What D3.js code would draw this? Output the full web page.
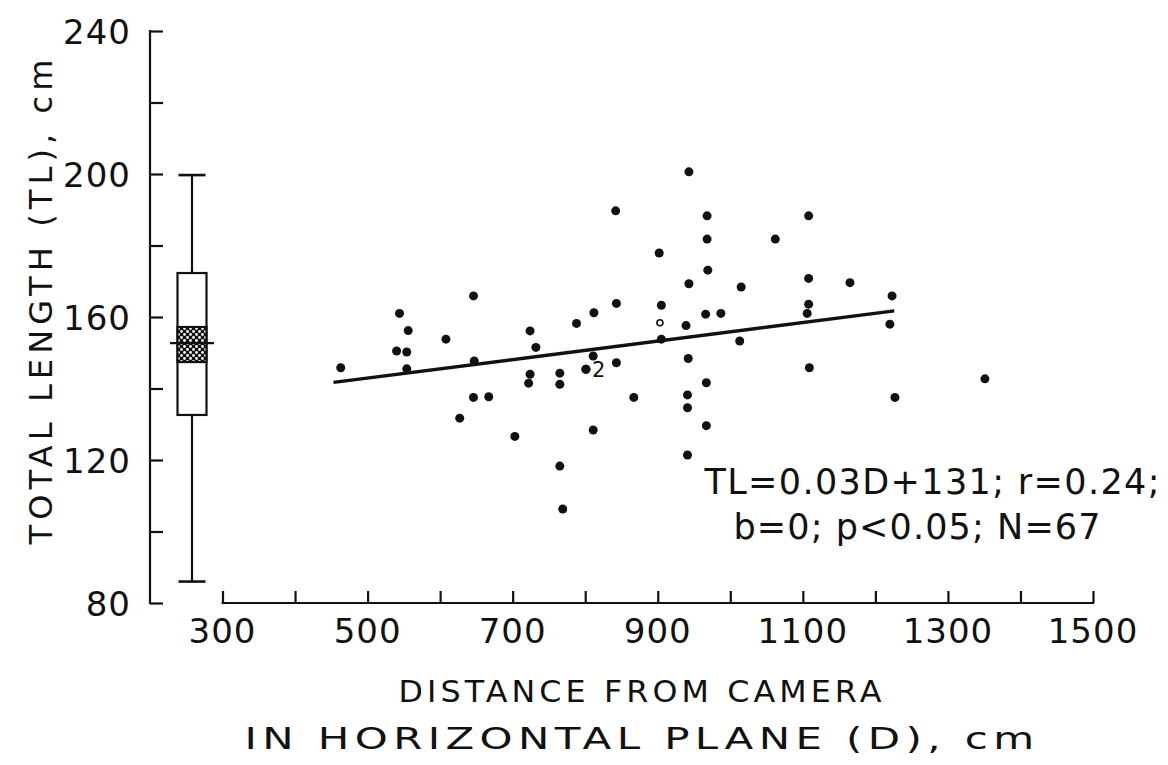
<!DOCTYPE html>
<html>
<head>
<meta charset="utf-8">
<script src="https://cdn.jsdelivr.net/npm/d3@7"></script>
<style>
  body { margin: 0; background: #fff; }
  text { font-family: "DejaVu Sans", sans-serif; fill: #111; }
</style>
</head>
<body>
<div id="chart"></div>
<script>
// distance from camera (D, cm) and total length (TL, cm), one entry per fish
var distance = [463, 544, 556, 540, 554, 554, 608, 646, 647, 646, 667, 627, 703,
    724, 732, 724, 722, 765, 765, 765, 769, 788, 812, 811, 801, 801, 811,
    843, 843, 842, 867, 902, 905, 903, 905, 943, 943, 939, 942, 941, 941, 941,
    968, 968, 969, 966, 987, 967, 967, 1015, 1013, 1062, 1108, 1108, 1108, 1106,
    1109, 1165, 1223, 1220, 1227, 1351];
var totalLength = [145.8, 161.0, 156.2, 150.5, 150.2, 145.5, 153.8, 165.9, 147.7, 137.5, 137.7, 131.7, 126.6,
    156.1, 151.5, 144.0, 141.5, 144.3, 141.2, 118.3, 106.3, 158.2, 161.2, 149.1, 145.4, 145.4, 128.4,
    163.8, 147.2, 189.7, 137.5, 177.9, 163.3, 158.4, 153.8, 200.6, 169.3, 157.6, 148.4, 138.2, 134.6, 121.4,
    188.3, 181.8, 173.1, 160.8, 161.0, 141.6, 129.6, 168.4, 153.3, 181.8, 188.3, 170.8, 163.6, 161.0,
    145.8, 169.6, 165.9, 158.0, 137.5, 142.7];
// open circle marker index
var hollowPoints = [33];
// "2" = two fish at the same spot
var pointNotes = [{ i: 24, label: '2' }];

// fitted line, drawn between its end points
var fitD = [453, 1226];
var fitTL = [141.7, 161.7];

// box plot of TL: low whisker, q1, ci low, median, ci high, q3, high whisker
var boxStats = [86, 132.6, 147.4, 152.7, 157.2, 172.3, 199.7];

var xTicks = [300, 400, 500, 600, 700, 800, 900, 1000, 1100, 1200, 1300, 1400, 1500];
var xTickLabels = [300, 500, 700, 900, 1100, 1300, 1500];
var yTicks = [80, 100, 120, 140, 160, 180, 200, 220, 240];
var yTickLabels = [80, 120, 160, 200, 240];

var eqLines = ['TL=0.03D+131; r=0.24;', 'b=0; p<0.05; N=67'];
var xTitle = ['DISTANCE FROM CAMERA', 'IN HORIZONTAL PLANE (D), cm'];
var yTitle = 'TOTAL LENGTH (TL), cm';

var width = 1168, height = 765;
var yAxisX = 150;

var x = d3.scaleLinear().domain([300, 1500]).range([222.5, 1093]);
var y = d3.scaleLinear().domain([80, 240]).range([603, 31]);

var svg = d3.select('#chart')
    .append('svg')
    .attr('width', width)
    .attr('height', height);

// stipple for the median confidence band
var defs = svg.append('defs');
var pat = defs.append('pattern')
    .attr('id', 'stipple')
    .attr('width', 6)
    .attr('height', 6)
    .attr('patternUnits', 'userSpaceOnUse');
pat.append('rect').attr('width', 6).attr('height', 6).attr('fill', '#111');
pat.append('circle').attr('cx', 1.5).attr('cy', 1.5).attr('r', 1.4).attr('fill', '#fff');
pat.append('circle').attr('cx', 4.5).attr('cy', 4.5).attr('r', 1.4).attr('fill', '#fff');

/////////////////////////////
// Axes
/////////////////////////////
var yAxis = d3.axisRight(y)
    .tickValues(yTicks)
    .tickSize(13)
    .tickFormat('');
var gy = svg.append('g')
    .attr('transform', 'translate(' + yAxisX + ',0)')
    .call(yAxis);
gy.select('.domain').remove();
gy.append('line')
    .attr('y1', y(240) - 1).attr('y2', y(80) + 1)
    .attr('stroke', '#111').attr('stroke-width', 2.2);
gy.selectAll('.tick line').attr('stroke', '#111').attr('stroke-width', 2.2);

svg.append('g').selectAll('text')
    .data(yTickLabels)
    .enter().append('text')
    .attr('x', 131)
    .attr('y', function (d) { return y(d) + 12.5; })
    .attr('text-anchor', 'end')
    .attr('font-size', 34)
    .attr('letter-spacing', 1)
    .text(function (d) { return d; });

var xAxis = d3.axisTop(x)
    .tickValues(xTicks)
    .tickSize(12)
    .tickFormat('');
var gx = svg.append('g')
    .attr('transform', 'translate(0,' + y(80) + ')')
    .call(xAxis);
gx.select('.domain').remove();
gx.append('line')
    .attr('x1', x(300) - 1).attr('x2', x(1500) + 1)
    .attr('stroke', '#111').attr('stroke-width', 2.2);
gx.selectAll('.tick line').attr('stroke', '#111').attr('stroke-width', 2.2);

svg.append('g').selectAll('text')
    .data(xTickLabels)
    .enter().append('text')
    .attr('x', function (d) { return x(d); })
    .attr('y', 643)
    .attr('text-anchor', 'middle')
    .attr('font-size', 34)
    .attr('letter-spacing', 1)
    .text(function (d) { return d; });

// axis titles
svg.append('g').selectAll('text')
    .data(xTitle)
    .enter().append('text')
    .attr('x', 642)
    .attr('y', function (d, i) { return 702 + i * 47; })
    .attr('text-anchor', 'middle')
    .attr('font-size', 31)
    .attr('letter-spacing', 4)
    .attr('textLength', function (d, i) { return i === 0 ? 487 : 795; })
    .attr('lengthAdjust', 'spacingAndGlyphs')
    .text(function (d) { return d; });

svg.append('text')
    .attr('transform', 'translate(52,302) rotate(-90)')
    .attr('text-anchor', 'middle')
    .attr('font-size', 32)
    .attr('textLength', 485)
    .attr('lengthAdjust', 'spacing')
    .text(yTitle);

/////////////////////////////
// Box plot
/////////////////////////////
var bx = yAxisX + 42, bw = 29;
var box = svg.append('g').attr('stroke', '#111').attr('stroke-width', 2.2);
box.append('line')
    .attr('x1', bx).attr('x2', bx)
    .attr('y1', y(boxStats[6])).attr('y2', y(boxStats[5]));
box.append('line')
    .attr('x1', bx).attr('x2', bx)
    .attr('y1', y(boxStats[1])).attr('y2', y(boxStats[0]));
box.selectAll('.cap')
    .data([boxStats[0], boxStats[6]])
    .enter().append('line')
    .attr('x1', bx - bw / 2 + 1).attr('x2', bx + bw / 2 - 1)
    .attr('y1', function (d) { return y(d); })
    .attr('y2', function (d) { return y(d); })
    .attr('stroke-width', 2.6);
box.append('rect')
    .attr('x', bx - bw / 2).attr('width', bw)
    .attr('y', y(boxStats[5]))
    .attr('height', y(boxStats[1]) - y(boxStats[5]))
    .attr('fill', '#fff');
box.append('rect')
    .attr('x', bx - bw / 2).attr('width', bw)
    .attr('y', y(boxStats[4]))
    .attr('height', y(boxStats[2]) - y(boxStats[4]))
    .attr('fill', 'url(#stipple)');
box.append('line')
    .attr('x1', bx - 22).attr('x2', bx + 22)
    .attr('y1', y(boxStats[3])).attr('y2', y(boxStats[3]));

/////////////////////////////
// Regression line and points
/////////////////////////////
svg.append('line')
    .attr('x1', x(fitD[0])).attr('y1', y(fitTL[0]))
    .attr('x2', x(fitD[1])).attr('y2', y(fitTL[1]))
    .attr('stroke', '#111')
    .attr('stroke-width', 3.4);

svg.append('g').selectAll('circle')
    .data(distance)
    .enter().append('circle')
    .attr('cx', function (d) { return x(d); })
    .attr('cy', function (d, i) { return y(totalLength[i]); })
    .attr('r', function (d, i) { return hollowPoints.indexOf(i) >= 0 ? 3 : 4.5; })
    .attr('fill', function (d, i) { return hollowPoints.indexOf(i) >= 0 ? '#fff' : '#111'; })
    .attr('stroke', '#111')
    .attr('stroke-width', function (d, i) { return hollowPoints.indexOf(i) >= 0 ? 1.6 : 0; });

svg.append('g').selectAll('text')
    .data(pointNotes)
    .enter().append('text')
    .attr('x', function (d) { return x(distance[d.i]) + 6; })
    .attr('y', function (d) { return y(totalLength[d.i]) + 8; })
    .attr('font-size', 21)
    .text(function (d) { return d.label; });

// equation text
svg.append('g').selectAll('text')
    .data(eqLines)
    .enter().append('text')
    .attr('x', function (d, i) { return i === 0 ? 932 : 917; })
    .attr('y', function (d, i) { return 494 + i * 45; })
    .attr('text-anchor', 'middle')
    .attr('font-size', 35)
    .attr('textLength', function (d, i) { return i === 0 ? 455 : 367; })
    .attr('lengthAdjust', 'spacing')
    .text(function (d) { return d; });
</script>
</body>
</html>
